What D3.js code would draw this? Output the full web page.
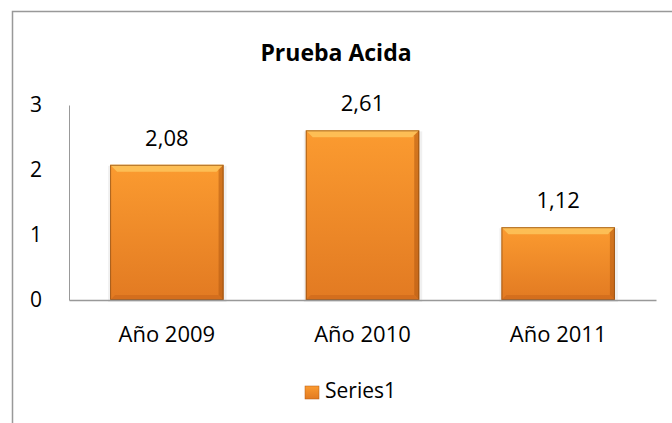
<!DOCTYPE html>
<html>
<head>
<meta charset="utf-8">
<script src="https://cdn.jsdelivr.net/npm/d3@7"></script>
<style>
  body { margin:0; background:#fff; }
  text { font-family: "Open Sans", "Lato", sans-serif; fill:#000; }
</style>
</head>
<body>
<div id="chart"></div>
<script>
// Prueba Acida
const categories = ["Año 2009", "Año 2010", "Año 2011"];
const values = [2.08, 2.61, 1.12];
const valueLabels = ["2,08", "2,61", "1,12"];
const yTicks = [0, 1, 2, 3];
const seriesName = "Series1";

const W = 672, H = 423;
const margin = {top:105, right:16, bottom:123, left:69};
const width = W - margin.left - margin.right;
const height = H - margin.top - margin.bottom;

const svg = d3.select("#chart").append("svg")
    .attr("width", W)
    .attr("height", H);

// chart border (right and bottom run off the picture)
svg.append("rect")
    .attr("x", 12.5).attr("y", 11.5)
    .attr("width", 700).attr("height", 450)
    .attr("fill", "none")
    .attr("stroke", "#999")
    .attr("stroke-width", 1.5);

const defs = svg.append("defs");
const grad = defs.append("linearGradient")
    .attr("id", "barGrad")
    .attr("x1", 0).attr("y1", 0).attr("x2", 0).attr("y2", 1);
grad.append("stop").attr("offset", "0%").attr("stop-color", "#fb9b30");
grad.append("stop").attr("offset", "100%").attr("stop-color", "#e27a22");

const g = svg.append("g")
    .attr("transform", "translate(" + margin.left + "," + margin.top + ")");

const x = d3.scaleBand().domain(categories).range([0, width]).paddingInner(0.42).paddingOuter(0.21);
const y = d3.scaleLinear().domain([0, 3]).range([height, 0]);

// y axis
const yAxis = g.append("g")
    .call(d3.axisLeft(y).tickValues(yTicks).tickSize(0).tickFormat(d3.format("d")));
yAxis.select(".domain").attr("stroke", "#999").attr("stroke-width", 1);
yAxis.selectAll("text")
    .style("font-size", "21px")
    .attr("dy", "0.3em")
    .attr("text-anchor", "start")
    .attr("x", -39);

// bars
const bars = g.selectAll(".bar")
    .data(values)
    .enter().append("g")
    .attr("class", "bar");

// soft shadow
bars.append("rect")
    .attr("x", (d, i) => x(categories[i]) - 2)
    .attr("y", d => y(d) + 1)
    .attr("width", x.bandwidth() + 5)
    .attr("height", d => height - y(d) + 1)
    .attr("fill", "#000")
    .attr("opacity", 0.06);

bars.append("rect")
    .attr("x", (d, i) => x(categories[i]))
    .attr("y", d => y(d))
    .attr("width", x.bandwidth())
    .attr("height", d => height - y(d))
    .attr("fill", "url(#barGrad)");

// bevel: top highlight, right and bottom darker edges
bars.append("path")
    .attr("d", (d, i) => {
        const x0 = x(categories[i]), x1 = x0 + x.bandwidth(), y0 = y(d), b = 7;
        return "M" + x0 + "," + y0 + "L" + x1 + "," + y0 + "L" + (x1 - b) + "," + (y0 + b) + "L" + (x0 + b) + "," + (y0 + b) + "Z";
    })
    .attr("fill", "#fdc45c")
    .attr("opacity", 0.85);
bars.append("path")
    .attr("d", (d, i) => {
        const x0 = x(categories[i]), x1 = x0 + x.bandwidth(), y0 = y(d), y1 = height, b = 5;
        return "M" + x1 + "," + y0 + "L" + x1 + "," + y1 + "L" + (x1 - b) + "," + (y1 - b) + "L" + (x1 - b) + "," + (y0 + b) + "Z";
    })
    .attr("fill", "#b35a12")
    .attr("opacity", 0.55);
bars.append("path")
    .attr("d", (d, i) => {
        const x0 = x(categories[i]), x1 = x0 + x.bandwidth(), y1 = height, b = 5;
        return "M" + x0 + "," + y1 + "L" + x1 + "," + y1 + "L" + (x1 - b) + "," + (y1 - b) + "L" + (x0 + b) + "," + (y1 - b) + "Z";
    })
    .attr("fill", "#c9651a")
    .attr("opacity", 0.55);
bars.append("rect")
    .attr("x", (d, i) => x(categories[i]) + 0.5)
    .attr("y", d => y(d) + 0.5)
    .attr("width", x.bandwidth() - 1)
    .attr("height", d => height - y(d) - 1)
    .attr("fill", "none")
    .attr("stroke", "#8a4a10")
    .attr("stroke-width", 1)
    .attr("opacity", 0.7);

// value labels
bars.append("text")
    .attr("x", (d, i) => x(categories[i]) + x.bandwidth() / 2)
    .attr("y", d => y(d) - 19)
    .attr("text-anchor", "middle")
    .style("font-size", "22px")
    .text((d, i) => valueLabels[i]);

// x axis
const xAxis = g.append("g")
    .attr("transform", "translate(0," + height + ")")
    .call(d3.axisBottom(x).tickSize(0).tickPadding(0));
xAxis.select(".domain").attr("stroke", "#999").attr("stroke-width", 1.5);
xAxis.selectAll("text")
    .style("font-size", "22px")
    .attr("dy", null)
    .attr("y", 42);

// title
svg.append("text")
    .attr("x", 336)
    .attr("y", 61)
    .attr("text-anchor", "middle")
    .style("font-size", "23px")
    .style("font-weight", "bold")
    .text("Prueba Acida");

// legend
const legend = svg.append("g").attr("transform", "translate(305,386)");
legend.append("rect")
    .attr("width", 14).attr("height", 13)
    .attr("fill", "url(#barGrad)")
    .attr("stroke", "#b35a12").attr("stroke-width", 0.5);
legend.append("text")
    .attr("x", 20)
    .attr("y", 12)
    .style("font-size", "21px")
    .text(seriesName);
</script>
</body>
</html>
